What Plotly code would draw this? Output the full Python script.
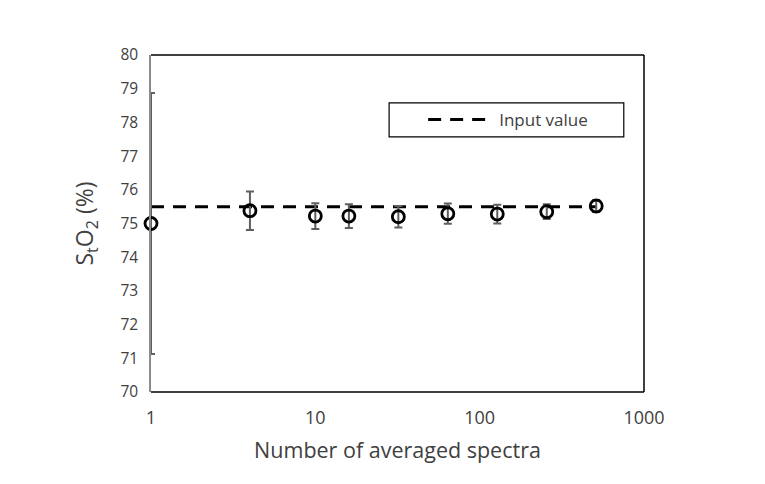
import plotly.graph_objects as go

n_spectra = [1, 4, 10, 16, 32, 64, 128, 256, 512]
sto2_mean = [75.0, 75.38, 75.22, 75.22, 75.2, 75.29, 75.28, 75.35, 75.52]
sto2_err = [3.87, 0.57, 0.38, 0.35, 0.32, 0.3, 0.28, 0.22, 0.18]
input_value = [75.5] * len(n_spectra)
x_ticks = [1, 10, 100, 1000]
y_ticks = list(range(70, 81))

font_family = "Open Sans, Lato, sans-serif"
fig = go.Figure()

fig.add_trace(go.Scatter(
    x=n_spectra, y=input_value, mode="lines", name="Input value",
    line=dict(color="black", width=3, dash="13px,9px"),
    showlegend=True,
))
fig.add_trace(go.Scatter(
    x=n_spectra, y=sto2_mean, mode="markers", name="StO2",
    marker=dict(symbol="circle-open", size=12, color="black", line=dict(width=2.8, color="black")),
    error_y=dict(type="data", array=sto2_err, visible=True, color="#5f5f5f", thickness=2, width=4),
    showlegend=False, cliponaxis=False,
))

fig.update_layout(
    width=757, height=476,
    margin=dict(l=143, r=121, t=47, b=92),
    plot_bgcolor="white", paper_bgcolor="white",
    font=dict(family=font_family, color="#404040"),
    showlegend=True,
    legend=dict(x=0.552, y=0.807, xanchor="left", yanchor="middle",
                bgcolor="rgba(0,0,0,0)", borderwidth=0, itemwidth=66,
                font=dict(size=17, color="#404040", family=font_family)),
    xaxis=dict(type="log", range=[0, 3], tickvals=x_ticks, ticktext=[str(v) for v in x_ticks],
               showgrid=False, zeroline=False, showline=False, ticks="",
               ticklabelstandoff=13, tickfont=dict(size=18, color="#404040"),
               title=dict(text="Number of averaged spectra", font=dict(size=21.5, color="#404040"), standoff=14)),
    yaxis=dict(range=[70, 80], tickvals=y_ticks, showgrid=False, zeroline=False,
               showline=True, linecolor="#8c8c8c", linewidth=1.5, ticks="",
               ticklabelstandoff=8, tickfont=dict(size=15.5, color="#404040"),
               title=dict(text="S<sub>t</sub>O<sub>2</sub> (%)", font=dict(size=23, color="#404040"), standoff=20)),
    shapes=[
        dict(type="line", xref="paper", yref="paper", x0=0, x1=1, y0=1, y1=1, line=dict(color="black", width=1.5)),
        dict(type="line", xref="paper", yref="paper", x0=1, x1=1, y0=0, y1=1, line=dict(color="black", width=1.5)),
        dict(type="line", xref="paper", yref="paper", x0=0, x1=1, y0=0, y1=0, line=dict(color="black", width=1.5)),
        dict(type="rect", xref="paper", yref="paper", x0=0.483, x1=0.959, y0=0.757, y1=0.858,
             line=dict(color="black", width=1.2), fillcolor="rgba(0,0,0,0)"),
    ],
)

fig.write_html("out.html")
